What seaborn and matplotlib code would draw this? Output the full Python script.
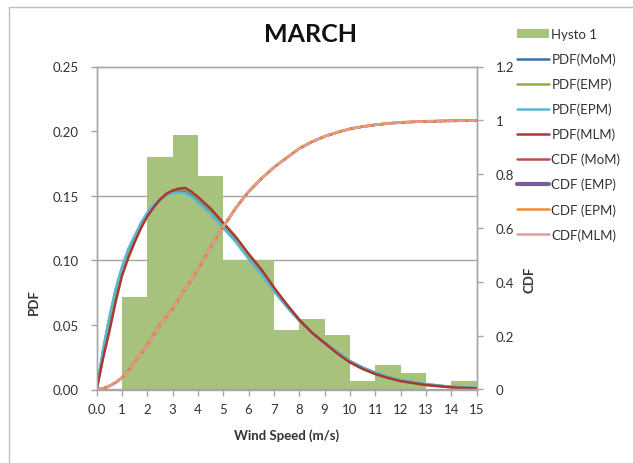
import numpy as np
import pandas as pd
import matplotlib
matplotlib.use("Agg")
import matplotlib.pyplot as plt
import seaborn as sns
from matplotlib.patches import Rectangle
from matplotlib.lines import Line2D
from matplotlib.patches import Patch

sns.set_theme(style="white")
plt.rcParams['font.family'] = ['Lato', 'DejaVu Sans']

# ---------------- data ----------------
bin_left = [0, 1, 2, 3, 4, 5, 6, 7, 8, 9, 10, 11, 12, 13, 14]
hist_pdf = [0.0, 0.0715, 0.180, 0.197, 0.165, 0.100, 0.100, 0.046, 0.0545,
            0.0424, 0.0064, 0.0193, 0.0129, 0.0, 0.0064]

speed = [0, 0.25, 0.5, 0.75, 1, 1.25, 1.5, 1.75, 2, 2.25, 2.5, 2.75, 3, 3.25, 3.5, 3.75,
         4, 4.5, 5, 5.5, 6, 6.5, 7, 7.5, 8, 8.5, 9, 9.5, 10, 10.5, 11, 11.5, 12, 13, 14, 15]
pdf_mom = [0, 0.030, 0.055, 0.077, 0.094, 0.108, 0.118, 0.128, 0.136, 0.142, 0.147, 0.1505,
           0.153, 0.1535, 0.153, 0.150, 0.146, 0.137, 0.126, 0.115, 0.102, 0.090, 0.077,
           0.065, 0.054, 0.044, 0.036, 0.029, 0.022, 0.017, 0.013, 0.0095, 0.007, 0.004,
           0.002, 0.001]
pdf_emp = [0, 0.026, 0.049, 0.071, 0.090, 0.104, 0.115, 0.126, 0.135, 0.142, 0.147, 0.151,
           0.154, 0.155, 0.155, 0.152, 0.148, 0.139, 0.128, 0.117, 0.104, 0.092, 0.078,
           0.066, 0.054, 0.044, 0.036, 0.028, 0.021, 0.016, 0.012, 0.009, 0.0065, 0.0035,
           0.0017, 0.0008]
pdf_epm = [0, 0.031, 0.056, 0.078, 0.095, 0.109, 0.119, 0.129, 0.137, 0.143, 0.147, 0.150,
           0.152, 0.1525, 0.152, 0.149, 0.145, 0.136, 0.125, 0.114, 0.101, 0.089, 0.076,
           0.064, 0.053, 0.044, 0.036, 0.029, 0.022, 0.017, 0.013, 0.0097, 0.0072, 0.0042,
           0.0021, 0.0011]
pdf_mlm = [0, 0.024, 0.045, 0.068, 0.088, 0.102, 0.114, 0.125, 0.134, 0.141, 0.147, 0.1515,
           0.154, 0.1555, 0.156, 0.153, 0.149, 0.140, 0.129, 0.118, 0.105, 0.093, 0.079,
           0.066, 0.054, 0.044, 0.036, 0.028, 0.021, 0.016, 0.012, 0.009, 0.0065, 0.0035,
           0.0017, 0.0008]
cdf_mom = [0, 0.004, 0.013, 0.026, 0.045, 0.070, 0.101, 0.133, 0.166, 0.203, 0.240, 0.270,
           0.301, 0.338, 0.375, 0.410, 0.446, 0.530, 0.605, 0.675, 0.735, 0.783, 0.825,
           0.861, 0.895, 0.920, 0.940, 0.955, 0.968, 0.977, 0.983, 0.988, 0.992, 0.996,
           0.998, 0.999]
cdf_emp = [0, 0.003, 0.012, 0.025, 0.043, 0.069, 0.100, 0.132, 0.165, 0.202, 0.240, 0.270,
           0.300, 0.337, 0.375, 0.410, 0.445, 0.530, 0.605, 0.675, 0.735, 0.783, 0.825,
           0.860, 0.895, 0.920, 0.940, 0.955, 0.968, 0.976, 0.983, 0.988, 0.992, 0.996,
           0.998, 0.999]
cdf_epm = [0, 0.004, 0.013, 0.026, 0.044, 0.070, 0.100, 0.133, 0.166, 0.203, 0.241, 0.271,
           0.301, 0.338, 0.376, 0.411, 0.446, 0.531, 0.606, 0.676, 0.736, 0.784, 0.826,
           0.861, 0.896, 0.921, 0.941, 0.956, 0.969, 0.977, 0.984, 0.989, 0.993, 0.997,
           0.999, 1.000]
cdf_mlm = [0, 0.003, 0.012, 0.025, 0.043, 0.069, 0.100, 0.132, 0.165, 0.202, 0.240, 0.270,
           0.300, 0.337, 0.375, 0.410, 0.445, 0.530, 0.605, 0.675, 0.735, 0.783, 0.825,
           0.860, 0.895, 0.920, 0.940, 0.955, 0.968, 0.976, 0.983, 0.988, 0.992, 0.996,
           0.998, 0.999]

x_ticks = list(range(0, 16))
x_ticklabels = ["0.0"] + [str(i) for i in range(1, 16)]
pdf_ticks = [0.00, 0.05, 0.10, 0.15, 0.20, 0.25]
pdf_ticklabels = ["0.00", "0.05", "0.10", "0.15", "0.20", "0.25"]
cdf_ticks = [0, 0.2, 0.4, 0.6, 0.8, 1.0, 1.2]
cdf_ticklabels = ["0", "0.2", "0.4", "0.6", "0.8", "1", "1.2"]

pdf_names = ["PDF(MoM)", "PDF(EMP)", "PDF(EPM)", "PDF(MLM)"]
cdf_names = ["CDF (MoM)", "CDF (EMP)", "CDF (EPM)", "CDF(MLM)"]

# ---------------- styles ----------------
hist_color = "#A6C27C"
pdf_colors = ["#3B6DB3", "#8DB045", "#5BB8D4", "#A83A34"]
cdf_colors = ["#C0504D", "#7A5FA0", "#F08A2C", "#DE9C9A"]
grid_color = "#A6A6A6"
text_color = "#333333"

fig = plt.figure(figsize=(6.33, 4.64), dpi=100)
ax = fig.add_axes([96.7 / 633, 1 - 390.5 / 464, (476.5 - 96.7) / 633, (390.5 - 67.5) / 464])

# chart-area border
fig.patches.append(Rectangle((9 / 633, -0.2), 1.2, 0.2 + (1 - 8 / 464), transform=fig.transFigure,
                             fill=False, edgecolor="#BFBFBF", linewidth=1.0, zorder=0))

# histogram (weights = bin heights)
centers = [b + 0.5 for b in bin_left]
edges = bin_left + [bin_left[-1] + 1]
sns.histplot(x=centers, weights=hist_pdf, bins=edges, stat="count", ax=ax,
             color=hist_color, alpha=1.0, linewidth=0, edgecolor=hist_color, zorder=2)

for yv in (0.10, 0.15):
    ax.axhline(yv, color=grid_color, linewidth=1.0, zorder=1)

pdf_df = pd.DataFrame({"speed": speed, pdf_names[0]: pdf_mom, pdf_names[1]: pdf_emp,
                       pdf_names[2]: pdf_epm, pdf_names[3]: pdf_mlm})
for name, col in zip(pdf_names, pdf_colors):
    sns.lineplot(data=pdf_df, x="speed", y=name, ax=ax, color=col, linewidth=1.8, zorder=3)

ax.set_xlim(0, 15)
ax.set_ylim(0, 0.25)
ax.set_xticks(x_ticks)
ax.set_xticklabels(x_ticklabels)
ax.set_yticks(pdf_ticks)
ax.set_yticklabels(pdf_ticklabels)

ax2 = ax.twinx()
cdf_df = pd.DataFrame({"speed": speed, cdf_names[0]: cdf_mom, cdf_names[1]: cdf_emp,
                       cdf_names[2]: cdf_epm, cdf_names[3]: cdf_mlm})
cdf_styles = ["-", (0, (1.5, 1.5)), "-", (0, (3, 1.2))]
for name, col, ls in zip(cdf_names, cdf_colors, cdf_styles):
    sns.lineplot(data=cdf_df, x="speed", y=name, ax=ax2, color=col, linewidth=1.8,
                 linestyle=ls, zorder=3)
ax2.set_ylim(0, 1.2)
ax2.set_yticks(cdf_ticks)
ax2.set_yticklabels(cdf_ticklabels)
ax2.set_xlim(0, 15)

for a in (ax, ax2):
    for s in a.spines.values():
        s.set_color(grid_color)
        s.set_linewidth(1.0)
    a.tick_params(colors=grid_color, labelcolor=text_color, labelsize=9.5, length=4, width=1)
ax.tick_params(axis="y", direction="out", left=True, pad=9)
ax.tick_params(axis="x", direction="out", bottom=True, pad=6)
ax2.tick_params(axis="y", direction="out", right=True, pad=10)

ax.set_xlabel("Wind Speed (m/s)", fontsize=9.5, fontweight="bold", color=text_color)
ax.set_ylabel("PDF", fontsize=9.5, fontweight="bold", color=text_color)
ax2.set_ylabel("CDF", fontsize=9.5, fontweight="bold", color=text_color)
ax.xaxis.set_label_coords(0.5, -0.12)
ax.yaxis.set_label_coords(-0.15, 0.274)
ax2.yaxis.set_label_coords(1.125, 0.342)

fig.text(311 / 633, 1 - 34 / 464, "MARCH", ha="center", va="center", fontsize=18,
         fontweight="bold", color="#111111")

handles = [Patch(facecolor=hist_color, edgecolor="none", label="Hysto 1")]
handles += [Line2D([], [], color=c, linewidth=1.8, label=n) for n, c in zip(pdf_names, pdf_colors)]
cdf_widths = [1.8, 3.0, 1.8, 1.8]
handles += [Line2D([], [], color=c, linewidth=w, label=n) for n, c, w in zip(cdf_names, cdf_colors, cdf_widths)]
leg = fig.legend(handles=handles, loc="upper left", bbox_to_anchor=(517 / 633, 1 - 29 / 464),
                 frameon=False, fontsize=9.5, handlelength=2.4, handleheight=0.6,
                 handletextpad=0.2, labelspacing=0.95, borderaxespad=0, borderpad=0)
for t in leg.get_texts():
    t.set_color(text_color)

fig.savefig("out.png", dpi=100)
